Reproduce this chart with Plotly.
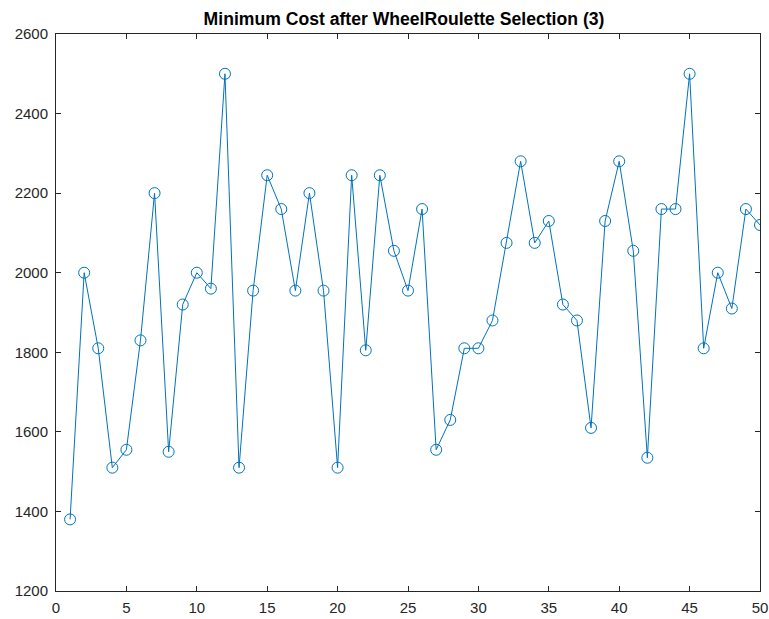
import plotly.graph_objects as go

# Minimum cost per generation after wheel-roulette selection
generation = list(range(1, 51))
min_cost = [
    1380, 2000, 1810, 1510, 1555, 1830, 2200, 1550, 1920, 2000,
    1960, 2500, 1510, 1955, 2245, 2160, 1955, 2200, 1955, 1510,
    2245, 1805, 2245, 2055, 1955, 2160, 1555, 1630, 1810, 1810,
    1880, 2075, 2280, 2075, 2130, 1920, 1880, 1610, 2130, 2280,
    2055, 1535, 2160, 2160, 2500, 1810, 2000, 1910, 2160, 2120,
]
x_ticks = [0, 5, 10, 15, 20, 25, 30, 35, 40, 45, 50]
y_ticks = [1200, 1400, 1600, 1800, 2000, 2200, 2400, 2600]

line_color = "#0072BD"
axis_color = "#262626"
font_family = "Liberation Sans, Arial, sans-serif"

fig = go.Figure()
fig.add_trace(go.Scatter(
    x=generation, y=min_cost,
    mode="lines+markers",
    line=dict(color=line_color, width=1),
    marker=dict(symbol="circle-open", size=11, color=line_color,
                line=dict(width=1, color=line_color)),
    showlegend=False,
))

axis_common = dict(
    showgrid=False, zeroline=False, automargin=False,
    showline=True, linecolor=axis_color, linewidth=1,
    mirror="ticks", ticks="inside", ticklen=5, tickwidth=1,
    tickcolor=axis_color,
    tickfont=dict(family=font_family, size=15, color=axis_color),
)

fig.update_xaxes(range=[0, 50], tickvals=x_ticks, ticklabelstandoff=3,
                 **axis_common)
fig.update_yaxes(range=[1200, 2600], tickvals=y_ticks, ticklabelstandoff=4,
                 **axis_common)

fig.update_layout(
    width=769, height=619,
    margin=dict(l=56, r=9, t=34, b=28),
    paper_bgcolor="white", plot_bgcolor="white",
    title=dict(
        text="<b>Minimum Cost after WheelRoulette Selection (3)</b>",
        x=404 / 769, xanchor="center", y=1 - 19 / 619, yanchor="middle",
        font=dict(family=font_family, size=17.6, color="#000000"),
    ),
)

fig.write_html("out.html")
